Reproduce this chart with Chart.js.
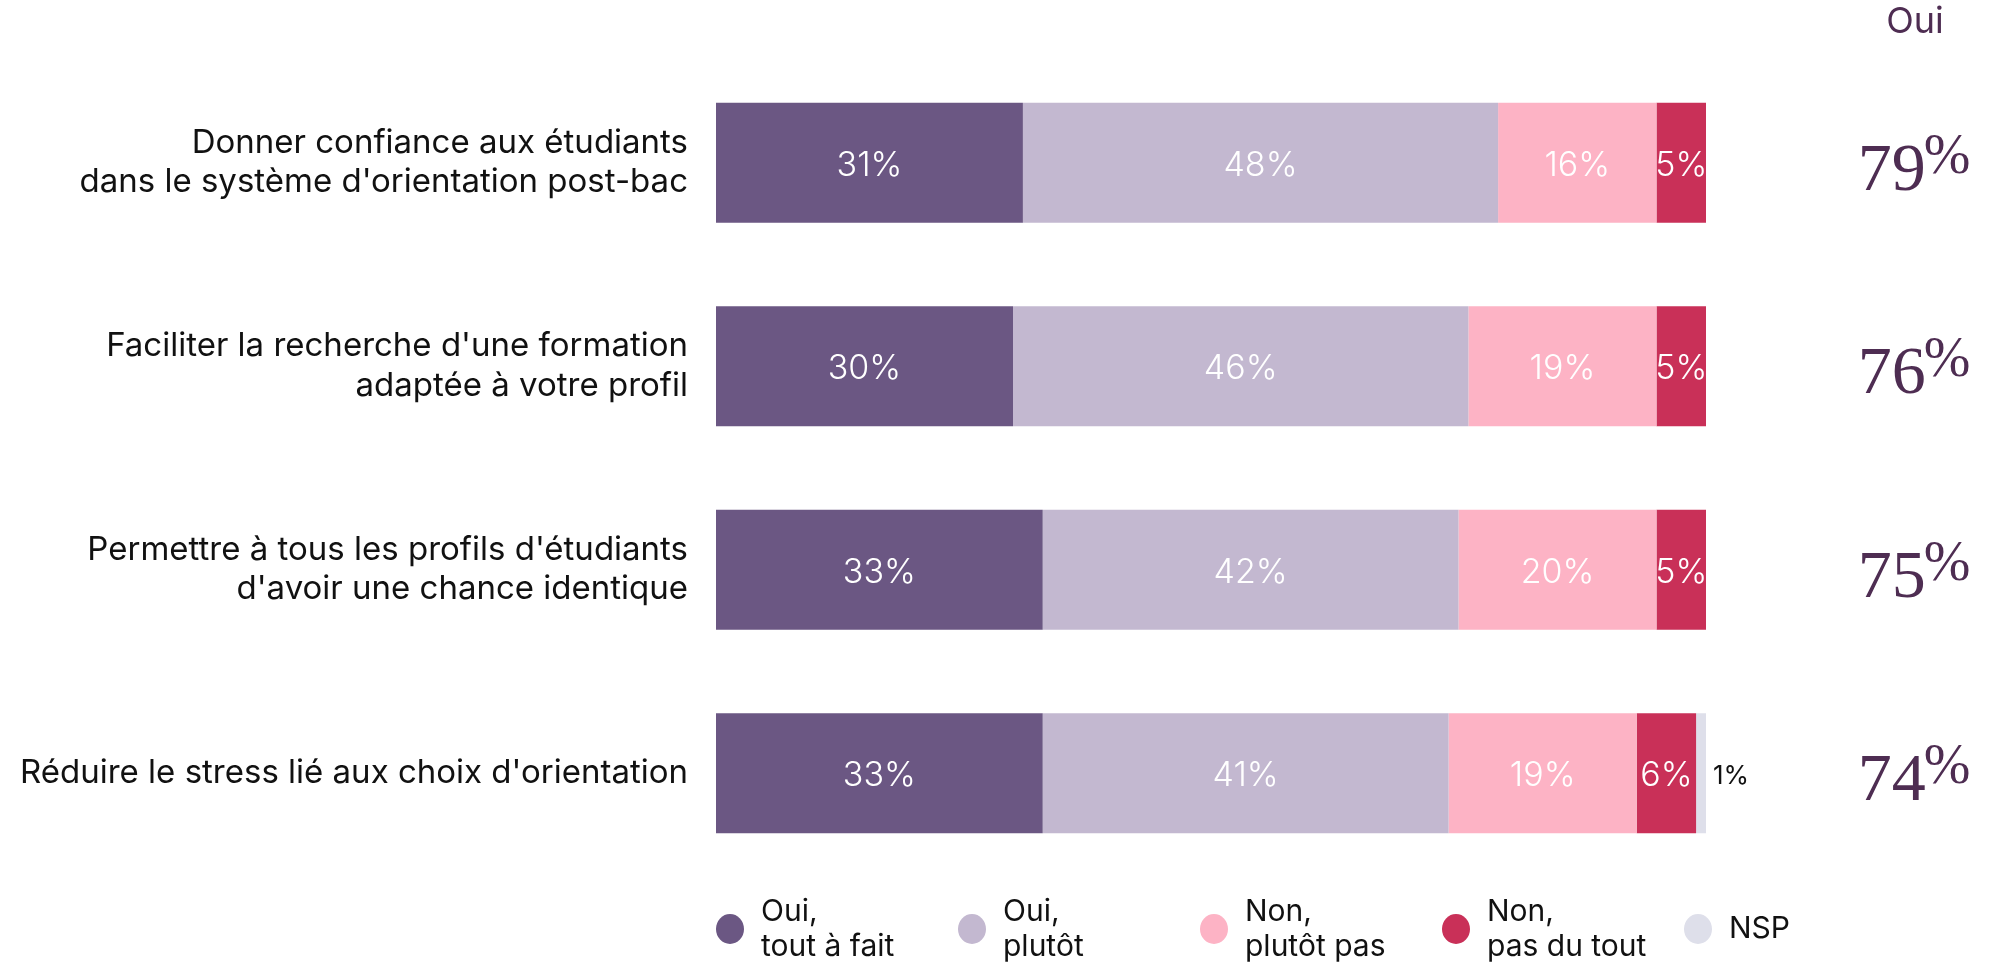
<!DOCTYPE html>
<html>
<head>
<meta charset="utf-8">
<script src="https://cdn.jsdelivr.net/npm/chart.js@4.4.1/dist/chart.umd.min.js"></script>
<style>
  html, body { margin: 0; padding: 0; background: #fff; }
  #wrap { width: 1993px; height: 963px; position: relative; }
</style>
</head>
<body>
<div id="wrap"><canvas id="chart"></canvas></div>
<script>
// categories (multi-line labels)
const categories = [
    ["Donner confiance aux étudiants", "dans le système d'orientation post-bac"],
    ["Faciliter la recherche d'une formation", "adaptée à votre profil"],
    ["Permettre à tous les profils d'étudiants", "d'avoir une chance identique"],
    ["Réduire le stress lié aux choix d'orientation"]
];

// series values (%)
const ouiToutAFait = [31, 30, 33, 33];
const ouiPlutot = [48, 46, 42, 41];
const nonPlutotPas = [16, 19, 20, 19];
const nonPasDuTout = [5, 5, 5, 6];
const nsp = [0, 0, 0, 1];

// "Oui" totals shown on the right
const ouiTotals = [79, 76, 75, 74];

const seriesLabels = [
    ["Oui,", "tout à fait"],
    ["Oui,", "plutôt"],
    ["Non,", "plutôt pas"],
    ["Non,", "pas du tout"],
    ["NSP"]
];
const seriesColors = ["#6b5783", "#c3b8d0", "#fdb3c5", "#c93058", "#dedfea"];

const FONT = "Inter, 'Open Sans', sans-serif";
const SERIF = "'Liberation Serif', 'DejaVu Serif', serif";
const DARK = "#4e2d52";

const values = [ouiToutAFait, ouiPlutot, nonPlutotPas, nonPasDuTout, nsp];

// value labels inside bars
const barLabels = {
    id: 'barLabels',
    afterDatasetsDraw(chart) {
        const ctx = chart.ctx;
        ctx.save();
        ctx.textBaseline = 'middle';
        chart.data.datasets.forEach((ds, i) => {
            const meta = chart.getDatasetMeta(i);
            meta.data.forEach((bar, j) => {
                const v = ds.data[j];
                if (!v) return;
                if (v >= 3) {
                    ctx.fillStyle = '#fff';
                    ctx.font = `300 34px ${FONT}`;
                    ctx.textAlign = 'center';
                    ctx.fillText(v + '%', (bar.x + bar.base) / 2, bar.y + 3);
                } else {
                    ctx.fillStyle = '#111';
                    ctx.font = `400 26px ${FONT}`;
                    ctx.textAlign = 'left';
                    ctx.fillText(v + '%', bar.x + 7, bar.y + 3);
                }
            });
        });
        ctx.restore();
    }
};

// right column with "Oui" totals
const ouiColumn = {
    id: 'ouiColumn',
    afterDraw(chart) {
        const ctx = chart.ctx;
        const yScale = chart.scales.y;
        const cx = 1915;
        ctx.save();
        ctx.fillStyle = DARK;
        ctx.textAlign = 'center';
        ctx.textBaseline = 'middle';
        ctx.font = `400 36px ${FONT}`;
        ctx.fillText('Oui', cx, 22);
        ouiTotals.forEach((t, i) => {
            const y = yScale.getPixelForValue(i);
            ctx.font = `400 68px ${SERIF}`;
            const num = String(t);
            const wNum = ctx.measureText(num).width;
            ctx.font = `400 56px ${SERIF}`;
            const wPct = ctx.measureText('%').width;
            const x0 = cx - (wNum + wPct) / 2;
            ctx.textAlign = 'left';
            ctx.textBaseline = 'alphabetic';
            ctx.font = `400 68px ${SERIF}`;
            ctx.fillText(num, x0, y + 27);
            ctx.font = `400 56px ${SERIF}`;
            ctx.fillText('%', x0 + wNum - 2, y + 10);
        });
        ctx.restore();
    }
};

// legend with two-line labels
const bottomLegend = {
    id: 'bottomLegend',
    afterDraw(chart) {
        const ctx = chart.ctx;
        const area = chart.chartArea;
        const step = 242;
        const cy = 929;
        ctx.save();
        chart.data.datasets.forEach((ds, i) => {
            const x = area.left + 14 + i * step;
            ctx.fillStyle = ds.backgroundColor;
            ctx.beginPath();
            ctx.ellipse(x, cy, 14, 15, 0, 0, Math.PI * 2);
            ctx.fill();
            ctx.fillStyle = '#111';
            ctx.font = `400 30px ${FONT}`;
            ctx.textAlign = 'left';
            ctx.textBaseline = 'middle';
            const lines = seriesLabels[i];
            if (lines.length === 1) {
                ctx.fillText(lines[0], x + 31, cy);
            } else {
                ctx.fillText(lines[0], x + 31, cy - 17);
                ctx.fillText(lines[1], x + 31, cy + 18);
            }
        });
        ctx.restore();
    }
};

const datasets = values.map((arr, i) => ({
    label: seriesLabels[i].join(' '),
    data: arr,
    backgroundColor: seriesColors[i],
    borderWidth: 0,
    barPercentage: 1,
    categoryPercentage: 0.59
}));

new Chart(document.getElementById('chart'), {
    type: 'bar',
    data: { labels: categories, datasets: datasets },
    plugins: [barLabels, ouiColumn, bottomLegend],
    options: {
        indexAxis: 'y',
        responsive: true,
        maintainAspectRatio: false,
        animation: false,
        layout: { padding: { top: 61, bottom: 88, right: 287, left: 0 } },
        plugins: {
            legend: { display: false },
            tooltip: { enabled: false }
        },
        scales: {
            x: {
                stacked: true,
                min: 0,
                max: 100,
                display: false
            },
            y: {
                stacked: true,
                grid: { display: false, drawTicks: false },
                border: { display: false },
                afterFit(scale) { scale.width = 716; },
                ticks: {
                    padding: 28,
                    color: '#111',
                    font: { family: FONT, size: 33, lineHeight: 1.2 }
                }
            }
        }
    }
});
</script>
</body>
</html>
